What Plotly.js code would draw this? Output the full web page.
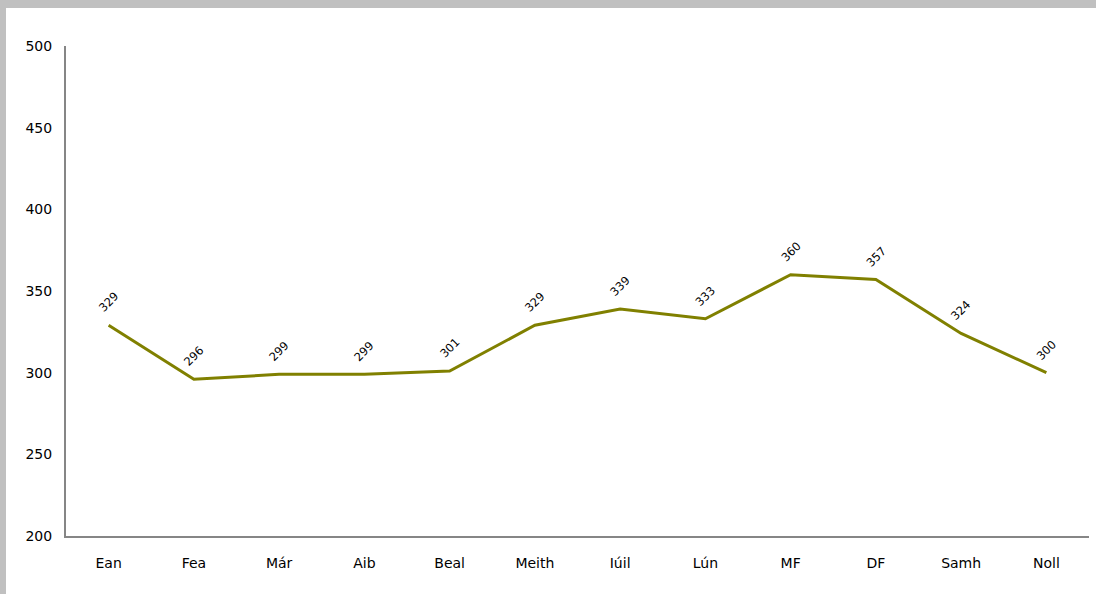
<!DOCTYPE html>
<html>
<head>
<meta charset="utf-8">
<script src="https://cdn.plot.ly/plotly-3.0.1.min.js"></script>
<style>
html,body{margin:0;padding:0;background:#c0c0c0;width:1096px;height:594px;overflow:hidden;}
#chart{position:absolute;left:6px;top:8px;width:1090px;height:586px;background:#fff;}
</style>
</head>
<body>
<div id="chart"></div>
<script>
const months = ["Ean","Fea","Már","Aib","Beal","Meith","Iúil","Lún","MF","DF","Samh","Noll"];
const values = [329,296,299,299,301,329,339,333,360,357,324,300];
const yTicks = [200,250,300,350,400,450,500];

const fontFam = "DejaVu Sans, Verdana, sans-serif";

const trace = {
  x: months,
  y: values,
  type: "scatter",
  mode: "lines",
  line: {color: "#808000", width: 3},
  hoverinfo: "skip"
};

const annotations = months.map((m, i) => ({
  x: m, y: values[i], xref: "x", yref: "y",
  text: String(values[i]),
  showarrow: false,
  textangle: -45,
  yshift: 23,
  font: {family: fontFam, size: 11.5, color: "#000"}
}));

const layout = {
  width: 1090, height: 586,
  margin: {l: 60, r: 7, t: 38, b: 58},
  paper_bgcolor: "#ffffff",
  plot_bgcolor: "#ffffff",
  showlegend: false,
  font: {family: fontFam, size: 14, color: "#000"},
  xaxis: {
    type: "category",
    range: [-0.5, 11.5],
    showgrid: false, zeroline: false,
    showline: true, linecolor: "#868686", linewidth: 2,
    ticks: "", ticklabelstandoff: 13,
    tickfont: {family: fontFam, size: 14}
  },
  yaxis: {
    range: [200, 500],
    tickvals: yTicks,
    showgrid: false, zeroline: false,
    showline: true, linecolor: "#868686", linewidth: 2,
    ticks: "", ticklabelstandoff: 9,
    tickfont: {family: fontFam, size: 14}
  },
  annotations: annotations
};

Plotly.newPlot("chart", [trace], layout, {displayModeBar: false, staticPlot: true});
</script>
</body>
</html>
